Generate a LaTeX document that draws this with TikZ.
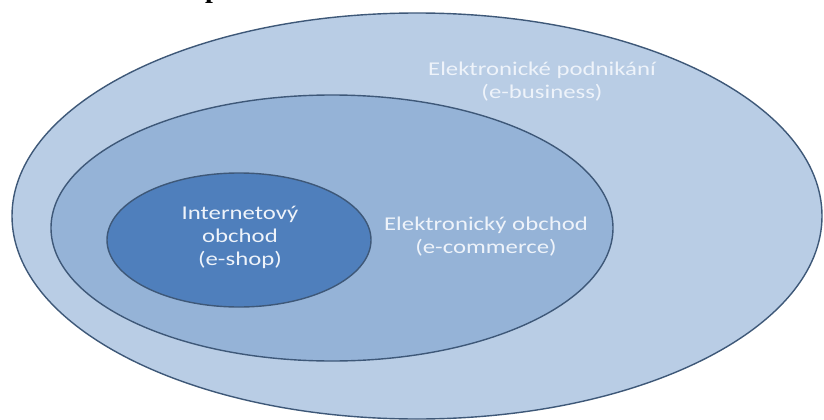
\documentclass[tikz,border=0pt]{standalone}
\usepackage{fontspec}
\setmainfont{Carlito}
\newfontfamily\headfont{Liberation Serif}
\definecolor{outerfill}{HTML}{B9CDE5}
\definecolor{midfill}{HTML}{95B3D7}
\definecolor{innerfill}{HTML}{4F7FBC}
\definecolor{rimcol}{HTML}{3E5878}
\definecolor{lbl}{HTML}{EEF3FA}
\begin{document}
\begin{tikzpicture}[x=1pt,y=-1pt,
  ring/.style={draw=rimcol,line width=1.4pt},
  lab/.style={text=lbl,align=center,font=\fontsize{19.5}{23}\selectfont,inner sep=0pt,xscale=1.27,transform shape}]
\useasboundingbox (0,0) rectangle (824,420);
\fill[white] (0,0) rectangle (824,420);
\node[font=\headfont\bfseries\fontsize{28}{30}\selectfont,anchor=base west,inner sep=0pt] (head) at (205,-2) {p};
\draw[ring,fill=outerfill] (417,216) ellipse [x radius=405,y radius=203];
\draw[ring,fill=midfill] (332,228) ellipse [x radius=281,y radius=133];
\draw[ring,fill=innerfill] (239,240) ellipse [x radius=132,y radius=67];
\node[lab] (ebus) at (542,82) {Elektronické podnikání\\(e-business)};
\node[lab] (ecom) at (486,237) {Elektronický obchod\\(e-commerce)};
\node[lab] (eshop) at (240,237) {Internetový\\obchod\\(e-shop)};
\end{tikzpicture}
\end{document}
